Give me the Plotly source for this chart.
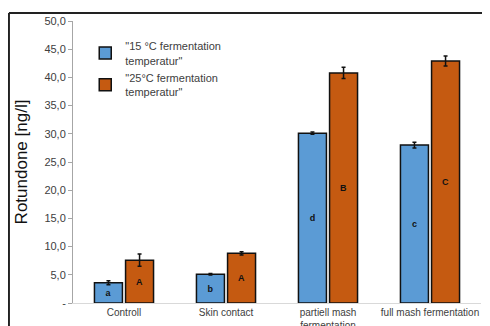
import plotly.graph_objects as go

categories = ["Controll", "Skin contact", "partiell mash<br>fermentation", "full mash fermentation"]
vals_15 = [3.6, 5.1, 30.1, 28.0]
err_15 = [0.35, 0.15, 0.2, 0.5]
vals_25 = [7.6, 8.8, 40.8, 42.9]
err_25 = [1.1, 0.3, 1.0, 0.9]
letters_15 = ["a", "b", "d", "c"]
letters_25 = ["A", "A", "B", "C"]
yticks = [0, 5, 10, 15, 20, 25, 30, 35, 40, 45, 50]
yticktext = ["-", "5,0", "10,0", "15,0", "20,0", "25,0", "30,0", "35,0", "40,0", "45,0", "50,0"]

FONT = "Liberation Sans, Arial, sans-serif"

fig = go.Figure()
fig.add_trace(go.Bar(
    x=categories, y=vals_15, name='"15 °C fermentation<br>temperatur"',
    marker=dict(color="#5B9BD5", line=dict(color="#111111", width=1.5)),
    error_y=dict(type="data", array=err_15, color="#111111", thickness=1.5, width=2),
    text=letters_15, textposition="inside", insidetextanchor="middle", textangle=0,
    textfont=dict(family=FONT, size=9, color="#111111", weight="bold"),
))
fig.add_trace(go.Bar(
    x=categories, y=vals_25, name='"25°C fermentation<br>temperatur"',
    marker=dict(color="#C55A11", line=dict(color="#111111", width=1.5)),
    error_y=dict(type="data", array=err_25, color="#111111", thickness=1.5, width=2),
    text=letters_25, textposition="inside", insidetextanchor="middle", textangle=0,
    textfont=dict(family=FONT, size=9, color="#111111", weight="bold"),
))

fig.update_layout(
    width=490, height=326,
    margin=dict(l=65, r=17, t=13, b=31),
    paper_bgcolor="white", plot_bgcolor="white",
    font=dict(family=FONT, color="#404040"),
    barmode="group", bargap=0.39, bargroupgap=0.1,
    uniformtext=dict(minsize=9, mode="show"),
    showlegend=True,
    legend=dict(x=0.03, y=0.96, xanchor="left", yanchor="top",
                font=dict(family=FONT, size=11, color="#404040"),
                bgcolor="rgba(0,0,0,0)", tracegroupgap=2),
    xaxis=dict(showline=True, linecolor="#D9D9D9", linewidth=1, ticks="",
               automargin=False,
               tickfont=dict(family=FONT, size=10, color="#404040"), showgrid=False),
    yaxis=dict(range=[0, 50], tickvals=yticks, ticktext=yticktext, automargin=False,
               showline=True, linecolor="#A6A6A6", linewidth=1, ticks="outside",
               ticklen=4, tickcolor="#A6A6A6", showgrid=False, zeroline=False,
               tickfont=dict(family=FONT, size=11, color="#404040"),
               title=dict(text="Rotundone [ng/l]", font=dict(family=FONT, size=17, color="#111111"),
                          standoff=12)),
    shapes=[
        dict(type="line", xref="paper", yref="paper", x0=-0.157, x1=1.1, y0=1.028, y1=1.028,
             line=dict(color="#222222", width=2)),
        dict(type="line", xref="paper", yref="paper", x0=-0.157, x1=-0.157, y0=1.028, y1=-0.2,
             line=dict(color="#222222", width=2)),
    ],
)

fig.write_html("out.html")
